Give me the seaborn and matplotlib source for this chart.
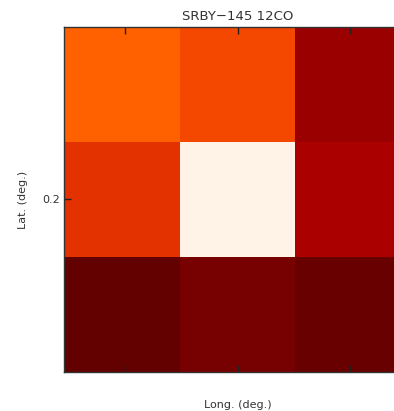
import matplotlib
matplotlib.use("Agg")
import matplotlib.pyplot as plt
import numpy as np
import pandas as pd
import seaborn as sns

# 12CO integrated intensity on a 3x3 grid (rows: top to bottom in latitude)
lat_labels = ["0.3", "0.2", "0.1"]
long_labels = ["-145.1", "-145.0", "-144.9"]
row_top = [6.9, 6.4, 4.05]
row_mid = [5.95, 9.75, 4.45]
row_bot = [2.6, 3.1, 2.75]

title = "SRBY\u2212145 12CO"
xlabel = "Long. (deg.)"
ylabel = "Lat. (deg.)"

df = pd.DataFrame([row_top, row_mid, row_bot], index=lat_labels, columns=long_labels)

sns.set_style("white")
plt.rcParams["font.family"] = ["DejaVu Sans"]

fig = plt.figure(figsize=(3.94, 4.11), dpi=100)
ax = fig.add_axes([64 / 394, 1 - 372 / 411, 347 / 394, 345 / 411])

sns.heatmap(df, ax=ax, cmap="gist_heat", vmin=0, vmax=10, cbar=False,
            square=False, linewidths=0)
ax.set_axisbelow(False)

text_color = "#333333"
ax.set_xticks([0.53, 1.5, 2.47])
ax.set_xticklabels([])
ax.set_yticks([1.5])
ax.set_yticklabels(["0.2"], rotation=0, fontsize=8, color=text_color)
ax.tick_params(axis="both", direction="in", length=5, width=1, color="#222222",
               top=True, bottom=True, left=True, right=True, pad=3)

for side in ["left", "right", "top", "bottom"]:
    ax.spines[side].set_visible(True)
    ax.spines[side].set_color("#333333")
    ax.spines[side].set_linewidth(1)
    ax.spines[side].set_zorder(5)

ax.set_title(title, fontsize=9.5, color=text_color, pad=5)
ax.set_xlabel(xlabel, fontsize=8, color=text_color, labelpad=17)
ax.set_ylabel(ylabel, fontsize=8, color=text_color, labelpad=10)

fig.savefig("out.png", dpi=100)
